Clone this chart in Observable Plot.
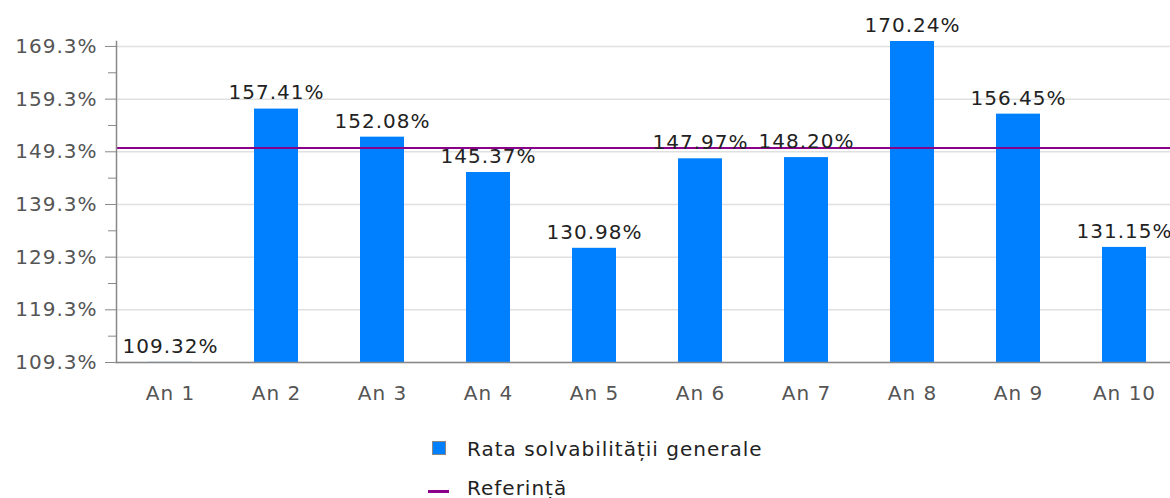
<!DOCTYPE html>
<html>
<head>
<meta charset="utf-8">
<script src="https://cdn.jsdelivr.net/npm/d3@7"></script>
<script src="https://cdn.jsdelivr.net/npm/@observablehq/plot@0.6"></script>
<style>
  html, body { margin: 0; padding: 0; background: #fff; overflow: hidden; }
  #wrap { position: relative; width: 1170px; height: 498px; overflow: hidden; font-family: "DejaVu Sans", sans-serif; }
  #chart svg { max-width: none !important; display: block; }
  #legend { position: absolute; left: 0; top: 420px; width: 1170px; height: 78px; }
  .sw { position: absolute; box-sizing: border-box; }
  .lab { position: absolute; left: 467px; white-space: nowrap; font-size: 20px; line-height: 20px; letter-spacing: 1px; color: #222; }
</style>
</head>
<body>
<div id="wrap"><div id="chart"></div><div id="legend"></div></div>
<script>
const categories = ["An 1", "An 2", "An 3", "An 4", "An 5", "An 6", "An 7", "An 8", "An 9", "An 10"];
const values = [109.32, 157.41, 152.08, 145.37, 130.98, 147.97, 148.20, 170.24, 156.45, 131.15];
const referenceValue = 150.0;
const yBase = 109.3;
const yMajorTicks = [109.3, 119.3, 129.3, 139.3, 149.3, 159.3, 169.3];
const yMinorTicks = [114.3, 124.3, 134.3, 144.3, 154.3, 164.3];
const seriesName = "Rata solvabilității generale";
const referenceName = "Referință";
const barColor = "#0080ff";
const refColor = "#8b008b";

const data = categories.map((c, i) => ({year: c, value: values[i]}));

const chart = Plot.plot({
  width: 1200,
  height: 420,
  marginLeft: 116,
  marginRight: 23,
  marginTop: 41,
  marginBottom: 58,
  style: {fontFamily: "DejaVu Sans", fontSize: "20px", letterSpacing: "1px", background: "#fff", maxWidth: "none"},
  x: {domain: categories, paddingInner: 0.585, paddingOuter: 0.2925, label: null},
  y: {domain: [yBase, 170.24], label: null},
  marks: [
    Plot.gridY(yMajorTicks, {stroke: "#e0e0e0", strokeOpacity: 1, strokeWidth: 1.5}),
    Plot.barY(data, {x: "year", y1: yBase, y2: "value", fill: barColor}),
    Plot.ruleY([referenceValue], {stroke: refColor, strokeWidth: 2}),
    Plot.frame({anchor: "left", stroke: "#888", strokeWidth: 1.5}),
    Plot.frame({anchor: "bottom", stroke: "#888", strokeWidth: 1.5}),
    Plot.axisY(yMajorTicks, {tickSize: 11, tickPadding: 8, stroke: "#888", fill: "#555", tickFormat: d => d.toFixed(1) + "%", label: null}),
    Plot.axisY(yMinorTicks, {tickSize: 8, stroke: "#888", tickFormat: () => "", label: null}),
    Plot.axisX({tickSize: 0, tickPadding: 23, fill: "#555", label: null}),
    Plot.text(data, {x: "year", y: "value", text: d => d.value.toFixed(2) + "%", dy: -16, fill: "#222"})
  ]
});
document.getElementById("chart").appendChild(chart);

const legend = document.getElementById("legend");
legend.innerHTML = `
  <div class="sw" style="left:432px;top:21px;width:14px;height:14px;background:${barColor};border:1px solid #888"></div>
  <div class="lab" style="top:19px">${seriesName}</div>
  <div class="sw" style="left:428px;top:70px;width:21px;height:3px;background:${refColor}"></div>
  <div class="lab" style="top:58px">${referenceName}</div>`;
</script>
</body>
</html>
